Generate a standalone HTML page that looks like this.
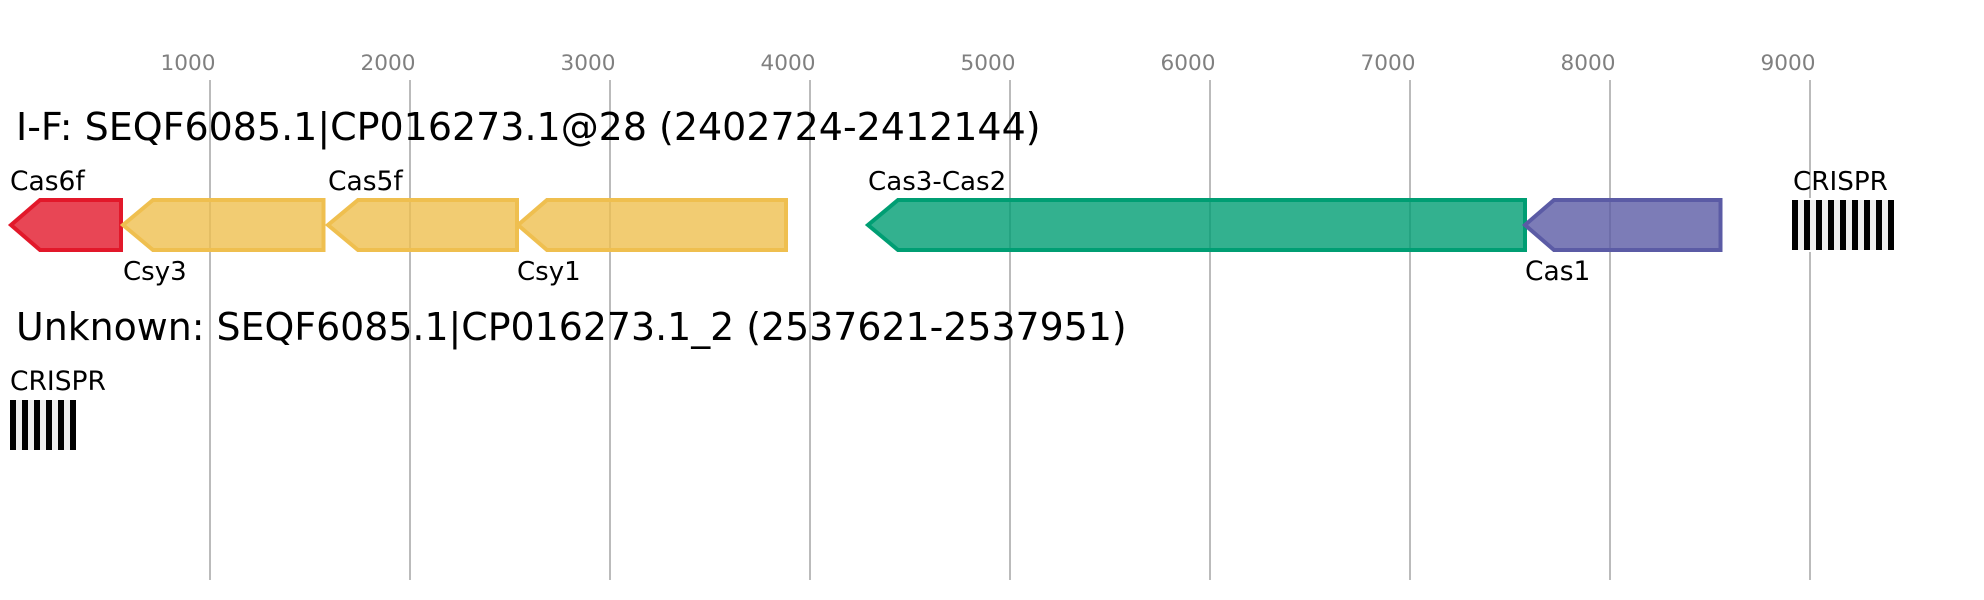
<!DOCTYPE html>
<html><head><meta charset="utf-8"><style>
html,body{margin:0;padding:0;background:#fff}
svg{display:block}
text{font-family:"DejaVu Sans",sans-serif;fill:#000}
.t{font-size:37.87px}.l{font-size:26.5px}.a{font-size:21.6px;fill:#808080}
.g{stroke-width:4;fill-opacity:.8}
</style></head><body>
<svg width="1984" height="600" viewBox="0 0 1984 600" xmlns="http://www.w3.org/2000/svg">
<g stroke="#bbb" stroke-width="2">
<line x1="210" y1="80" x2="210" y2="580"/><line x1="410" y1="80" x2="410" y2="580"/><line x1="610" y1="80" x2="610" y2="580"/><line x1="810" y1="80" x2="810" y2="580"/><line x1="1010" y1="80" x2="1010" y2="580"/><line x1="1210" y1="80" x2="1210" y2="580"/><line x1="1410" y1="80" x2="1410" y2="580"/><line x1="1610" y1="80" x2="1610" y2="580"/><line x1="1810" y1="80" x2="1810" y2="580"/>
</g>
<g class="a">
<text class="a" x="160.5" y="70">1000</text><text class="a" x="360.5" y="70">2000</text><text class="a" x="560.5" y="70">3000</text><text class="a" x="760.5" y="70">4000</text><text class="a" x="960.5" y="70">5000</text><text class="a" x="1160.5" y="70">6000</text><text class="a" x="1360.5" y="70">7000</text><text class="a" x="1560.5" y="70">8000</text><text class="a" x="1760.5" y="70">9000</text>
</g>
<text class="t" style="font-size:37.98px" x="16" y="140">I-F: SEQF6085.1|CP016273.1@28 (2402724-2412144)</text>
<text class="t" x="16" y="340">Unknown: SEQF6085.1|CP016273.1_2 (2537621-2537951)</text>
<polygon class="g" fill="#E2182A" stroke="#E2182A" points="121,200 40,200 11,225 40,250 121,250"/>
<polygon class="g" fill="#EFBF4F" stroke="#EFBF4F" points="323.5,200 153,200 123,225 153,250 323.5,250"/>
<polygon class="g" fill="#EFBF4F" stroke="#EFBF4F" points="517,200 358,200 328,225 358,250 517,250"/>
<polygon class="g" fill="#EFBF4F" stroke="#EFBF4F" points="786,200 547,200 518,225 547,250 786,250"/>
<polygon class="g" fill="#009E73" stroke="#009E73" points="1525,200 898,200 868,225 898,250 1525,250"/>
<polygon class="g" fill="#5B5BA5" stroke="#5B5BA5" points="1720.5,200 1554,200 1525,225 1554,250 1720.5,250"/>
<rect x="1788" y="198" width="110" height="54" fill="#fff"/>
<g fill="#eee">
<rect x="1792" y="200" width="102" height="50"/>
<rect x="10" y="400" width="66" height="50"/>
</g>
<g fill="#000">
<rect x="1792" y="200" width="6" height="50"/><rect x="1804" y="200" width="6" height="50"/><rect x="1816" y="200" width="6" height="50"/><rect x="1828" y="200" width="6" height="50"/><rect x="1840" y="200" width="6" height="50"/><rect x="1852" y="200" width="6" height="50"/><rect x="1864" y="200" width="6" height="50"/><rect x="1876" y="200" width="6" height="50"/><rect x="1888" y="200" width="6" height="50"/>
<rect x="10" y="400" width="6" height="50"/><rect x="22" y="400" width="6" height="50"/><rect x="34" y="400" width="6" height="50"/><rect x="46" y="400" width="6" height="50"/><rect x="58" y="400" width="6" height="50"/><rect x="70" y="400" width="6" height="50"/>
</g>
<text class="l" x="10" y="190">Cas6f</text>
<text class="l" style="font-size:26px" x="123" y="280">Csy3</text>
<text class="l" x="328" y="190">Cas5f</text>
<text class="l" style="font-size:26px" x="517" y="280">Csy1</text>
<text class="l" style="font-size:26.1px" x="868" y="190">Cas3-Cas2</text>
<text class="l" x="1525" y="280">Cas1</text>
<text class="l" style="font-size:26.2px" x="1793" y="190">CRISPR</text>
<text class="l" x="10" y="390">CRISPR</text>
</svg>
</body></html>
